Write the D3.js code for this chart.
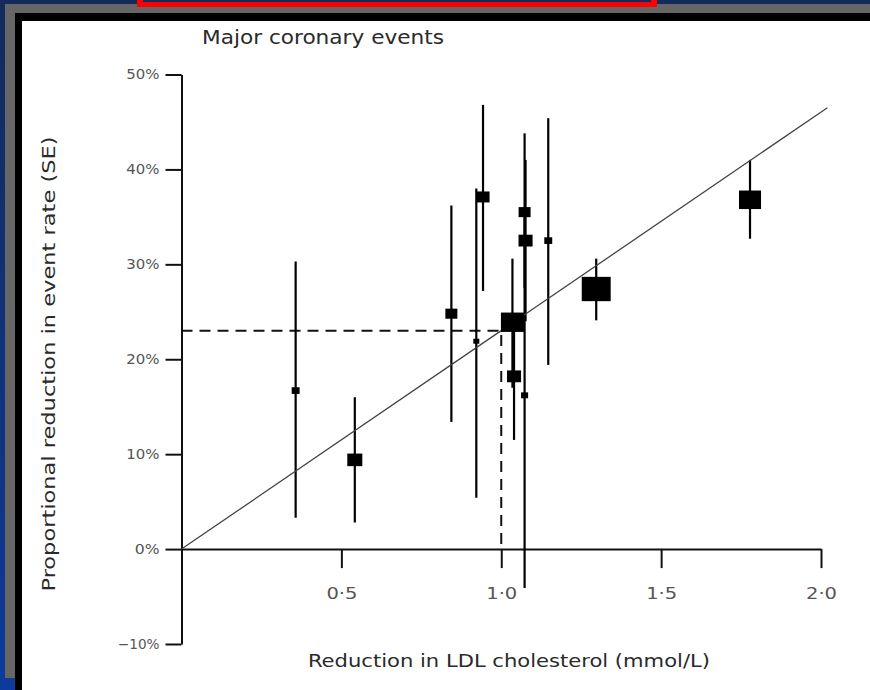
<!DOCTYPE html>
<html>
<head>
<meta charset="utf-8">
<script src="https://cdn.jsdelivr.net/npm/d3@7/dist/d3.min.js"></script>
<style>
    body { margin: 0; background: #13295c; }
    svg { display: block; }
    .axis path, .axis line { stroke: #111; stroke-width: 2; }
    .axis text { fill: #555; font-family: 'DejaVu Sans Condensed', 'Liberation Sans', sans-serif; }
    .label { fill: #2a2a2a; font-family: 'DejaVu Sans Condensed', 'Liberation Sans', sans-serif; }
</style>
</head>
<body>
<div id="chart"></div>
<script>
// trials: LDL reduction (mmol/L), proportional reduction in events (%), 95% CI, weight
var LDL_REDUCTION = [0.357, 0.542, 0.844, 0.922, 0.943, 1.035, 1.04, 1.073, 1.076, 1.073, 1.147, 1.297, 1.778]
var EVENT_REDUCTION = [16.7, 9.4, 24.8, 21.9, 37.1, 23.9, 18.2, 35.5, 32.5, 16.2, 32.5, 27.4, 36.8]
var CI_LOW = [3.3, 2.8, 13.4, 5.4, 27.2, 17.0, 11.5, 27.5, 24.0, -4.1, 19.4, 24.1, 32.7]
var CI_HIGH = [30.3, 16.0, 36.2, 38.0, 46.8, 30.6, 24.0, 43.8, 41.0, 36.0, 45.4, 30.6, 41.0]
var WEIGHT = [0.7, 2.5, 1.6, 0.4, 1.9, 5.9, 2.2, 1.6, 2.2, 0.55, 0.7, 9.3, 5.4]

var FIT_X = [0, 2.02]
var FIT_Y = [0, 46.5]
var REF_X = 1.0
var REF_Y = 23

var Y_TICKS = [-10, 0, 10, 20, 30, 40, 50]
var X_TICKS = [0.5, 1.0, 1.5, 2.0]

var TITLE = 'Major coronary events'
var X_LABEL = 'Reduction in LDL cholesterol (mmol/L)'
var Y_LABEL = 'Proportional reduction in event rate (SE)'

var W = 870
var H = 690

var svg = d3.select('#chart').append('svg')
    .attr('width', W)
    .attr('height', H)

// slide frame
var grad = svg.append('defs').append('linearGradient')
    .attr('id', 'bg').attr('x1', 0).attr('y1', 0).attr('x2', 0).attr('y2', 1)
grad.append('stop').attr('offset', 0).attr('stop-color', '#132a5a')
grad.append('stop').attr('offset', 1).attr('stop-color', '#0d3a9c')

svg.append('rect').attr('width', W).attr('height', H).attr('fill', 'url(#bg)')
svg.append('rect').attr('x', 5).attr('y', 4).attr('width', W - 5).attr('height', 674).attr('fill', '#666')
svg.append('rect').attr('x', 15).attr('y', 13).attr('width', W - 15).attr('height', H - 13).attr('fill', '#000')
svg.append('rect').attr('x', 22).attr('y', 21).attr('width', W - 22).attr('height', H - 21).attr('fill', '#fff')
svg.append('rect').attr('x', 137).attr('y', 0).attr('width', 520).attr('height', 7).attr('fill', '#f00')
svg.append('rect').attr('x', 143).attr('y', 0).attr('width', 508).attr('height', 2).attr('fill', '#132a5a')

var x = d3.scaleLinear().domain([0, 2]).range([181.5, 821])
var y = d3.scaleLinear().domain([-10, 50]).range([644, 74.5])
var size = d3.scaleSqrt().domain([0, 10]).range([0, 30])

var yAxis = d3.axisLeft(y)
    .tickValues(Y_TICKS)
    .tickSize(16)
    .tickSizeOuter(0)
    .tickPadding(6)
    .tickFormat(function (d) { return (d < 0 ? '\u2212' + (-d) : d) + '%' })

var xAxis = d3.axisBottom(x)
    .tickValues(X_TICKS)
    .tickSize(19)
    .tickSizeOuter(0)
    .tickPadding(20)
    .tickFormat(function (d) { return d3.format('.1f')(d).replace('.', '\u00b7') })

svg.append('g')
    .attr('class', 'axis')
    .attr('transform', 'translate(' + x(0) + ',0)')
    .call(yAxis)
    .selectAll('text')
    .style('font-size', '14px')
    .attr('lengthAdjust', 'spacingAndGlyphs')
    .attr('textLength', function () { return this.textContent.length * 8.4 + 8 })

svg.append('g')
    .attr('class', 'axis')
    .attr('transform', 'translate(0,' + y(0) + ')')
    .call(xAxis)
    .selectAll('text')
    .style('font-size', '15px')
    .attr('lengthAdjust', 'spacingAndGlyphs')
    .attr('textLength', 31)

// dashed reference at 1 mmol/L
svg.append('path')
    .attr('d', 'M' + x(0) + ',' + y(REF_Y) + 'H' + x(REF_X) + 'V' + y(0))
    .attr('fill', 'none')
    .attr('stroke', '#111')
    .attr('stroke-width', 2)
    .attr('stroke-dasharray', '11,7')

// confidence intervals
var idx = d3.range(LDL_REDUCTION.length)

svg.selectAll('.ci')
    .data(idx)
    .enter().append('line')
    .attr('class', 'ci')
    .attr('x1', function (i) { return x(LDL_REDUCTION[i]) })
    .attr('x2', function (i) { return x(LDL_REDUCTION[i]) })
    .attr('y1', function (i) { return y(CI_LOW[i]) })
    .attr('y2', function (i) { return y(CI_HIGH[i]) })
    .attr('stroke', '#000')
    .attr('stroke-width', 2.2)

// fitted line
var line = d3.line()
    .x(function (i) { return x(FIT_X[i]) })
    .y(function (i) { return y(FIT_Y[i]) })

svg.append('path')
    .datum(d3.range(FIT_X.length))
    .attr('d', line)
    .attr('fill', 'none')
    .attr('stroke', '#444')
    .attr('stroke-width', 1.3)

// squares sized by weight
svg.selectAll('.trial')
    .data(idx)
    .enter().append('rect')
    .attr('class', 'trial')
    .attr('x', function (i) { return x(LDL_REDUCTION[i]) - size(WEIGHT[i]) / 2 })
    .attr('y', function (i) { return y(EVENT_REDUCTION[i]) - size(WEIGHT[i]) * 0.42 })
    .attr('width', function (i) { return size(WEIGHT[i]) })
    .attr('height', function (i) { return size(WEIGHT[i]) * 0.84 })
    .attr('fill', '#000')

// labels
svg.append('text')
    .attr('class', 'label')
    .attr('x', 202)
    .attr('y', 44)
    .attr('textLength', 242)
    .attr('lengthAdjust', 'spacingAndGlyphs')
    .style('font-size', '20px')
    .text(TITLE)

svg.append('text')
    .attr('class', 'label')
    .attr('x', 509)
    .attr('y', 667)
    .attr('text-anchor', 'middle')
    .attr('textLength', 402)
    .attr('lengthAdjust', 'spacingAndGlyphs')
    .style('font-size', '18px')
    .text(X_LABEL)

svg.append('text')
    .attr('class', 'label')
    .attr('transform', 'translate(55,364) rotate(-90)')
    .attr('text-anchor', 'middle')
    .attr('textLength', 455)
    .attr('lengthAdjust', 'spacingAndGlyphs')
    .style('font-size', '18px')
    .text(Y_LABEL)
</script>
</body>
</html>
